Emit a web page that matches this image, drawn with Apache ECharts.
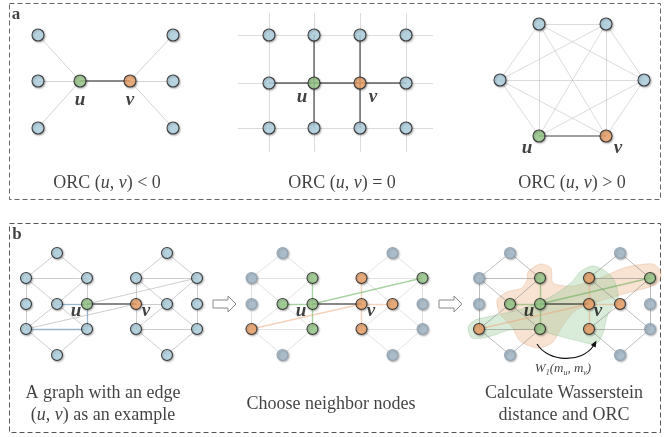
<!DOCTYPE html>
<html>
<head>
<meta charset="utf-8">
<script src="https://cdn.jsdelivr.net/npm/echarts@6/dist/echarts.min.js"></script>
<style>
html,body{margin:0;padding:0;background:#fff}
#chart{width:668px;height:437px}
</style>
</head>
<body>
<div id="chart"></div>
<script>
// ---- panel a: three toy graphs around the edge (u, v) ----
// star: two hubs joined by one edge, each with three leaves
const starNodes = [
  ['u', 80, 81, 'green'], ['v', 130, 81, 'orange'],
  ['l1', 38, 35, 'blue'], ['l2', 38, 81, 'blue'], ['l3', 38, 128, 'blue'],
  ['r1', 173, 35, 'blue'], ['r2', 173, 81, 'blue'], ['r3', 173, 128, 'blue']
];
const starEdges = [
  ['u', 'l1'], ['u', 'l2'], ['u', 'l3'], ['v', 'r1'], ['v', 'r2'], ['v', 'r3'], ['u', 'v', 'bold']
];

// square lattice
const latticeCols = [269, 314, 360, 406];
const latticeRows = [35, 83, 128];
const latticeSpan = { x: [238, 433], y: [13, 152] };
const latticeEdges = [
  ['c1r1', 'c1r0', 'bold'], ['c1r1', 'c1r2', 'bold'], ['c1r1', 'c0r1', 'bold'], ['c1r1', 'c2r1', 'bold'],
  ['c2r1', 'c2r0', 'bold'], ['c2r1', 'c2r2', 'bold'], ['c2r1', 'c3r1', 'bold']
];

// complete graph on six nodes
const cliqueNodes = [
  ['k1', 539, 24, 'blue'], ['k2', 606, 24, 'blue'], ['k3', 500, 80, 'blue'],
  ['k4', 644, 80, 'blue'], ['u', 539, 136, 'green'], ['v', 606, 136, 'orange']
];

// ---- panel b: two communities bridged by (u, v) ----
const twinNodes = [
  ['T1', 57, 253], ['UL1', 26, 278], ['UR1', 87, 278], ['ML1', 26, 304], ['C1', 57, 304],
  ['u', 87, 304], ['LL1', 26, 329], ['LR1', 87, 329], ['B1', 57, 355],
  ['T2', 167, 253], ['UL2', 136, 278], ['UR2', 197, 278], ['v', 136, 304], ['C2', 167, 304],
  ['MR2', 197, 304], ['LL2', 136, 329], ['LR2', 197, 329], ['B2', 167, 355]
];
const twinEdges = [
  ['T1', 'UL1'], ['T1', 'UR1'], ['UL1', 'UR1'], ['UL1', 'ML1'], ['ML1', 'LL1'], ['UR1', 'u'], ['u', 'LR1'],
  ['UL1', 'C1'], ['UR1', 'C1'], ['LL1', 'C1'], ['LR1', 'C1'], ['C1', 'u'], ['LL1', 'LR1'], ['B1', 'LL1'], ['B1', 'LR1'],
  ['T2', 'UL2'], ['T2', 'UR2'], ['UL2', 'UR2'], ['UL2', 'v'], ['v', 'LL2'], ['UR2', 'MR2'], ['MR2', 'LR2'],
  ['UL2', 'C2'], ['UR2', 'C2'], ['LL2', 'C2'], ['LR2', 'C2'], ['v', 'C2'], ['LL2', 'LR2'], ['B2', 'LL2'], ['B2', 'LR2'],
  ['u', 'UR2'], ['LL1', 'v'], ['u', 'v']
];
const twinShift = [0, 225.5, 453];
const pathEdges = [['C1', 'u'], ['u', 'LR1'], ['LL1', 'LR1']];
const uNeighbors = ['UR1', 'C1', 'LR1', 'UR2'];
const vNeighbors = ['LL1', 'UL2', 'C2', 'LL2'];

// probability-mass regions around each neighbourhood
const massU = [[528,272],[540,264],[551,268],[553,283],[573,286],[597,279],[627,267],[653,264],[661,272],[657,284],
  [627,293],[600,301],[575,311],[562,327],[552,343],[537,348],[520,341],[512,327],[500,314],[497,300],[507,292],[522,288],[527,280]];
const massV = [[580,272],[592,266],[604,270],[614,280],[618,298],[608,314],[603,333],[596,344],[575,340],[555,335],
  [535,330],[510,330],[488,337],[472,338],[468,327],[475,320],[492,316],[522,309],[552,296],[572,282]];

// captions
const captions = [
  [107, 183, 'ORC ({i|u}, {i|v}) < 0'],
  [342, 183, 'ORC ({i|u}, {i|v}) = 0'],
  [572, 183, 'ORC ({i|u}, {i|v}) > 0'],
  [103, 404, 'A graph with an edge\n({i|u}, {i|v}) as an example'],
  [331, 404, 'Choose neighbor nodes'],
  [564, 404, 'Calculate Wasserstein\ndistance and ORC']
];
const nodeTags = [
  [80, 100, 'u'], [130, 100, 'v'], [302, 97, 'u'], [373, 97, 'v'], [527, 148, 'u'], [618, 148, 'v'],
  [76, 311, 'u'], [146, 311, 'v'], [301, 311, 'u'], [371, 311, 'v'], [529, 311, 'u'], [598, 311, 'v']
];
const panelTags = [[16, 15, 'a'], [17, 235, 'b']];

const FILL = { blue: '#b6d9ea', green: '#9dcf8f', orange: '#f2a76d', grey: '#a7bece' };
const SERIF = '"Liberation Serif", "DejaVu Serif", serif';

function nodeItem(x, y, kind, size) {
  return {
    value: [x, y],
    symbolSize: size,
    itemStyle: {
      color: FILL[kind],
      borderColor: kind === 'grey' ? '#8d9eac' : '#1c1c1c',
      borderWidth: 1.1,
      shadowBlur: 2, shadowOffsetX: 1, shadowOffsetY: 1, shadowColor: 'rgba(0,0,0,0.35)'
    }
  };
}
function edgeItem(a, b, color, width) {
  return { coords: [a, b], lineStyle: { color: color, width: width } };
}
function lookup(list, dx) {
  const m = {};
  list.forEach(n => { m[n[0]] = [n[1] + (dx || 0), n[2]]; });
  return m;
}
function edgeKey(a, b) { return [a, b].sort().join('|'); }

const nodes = [];
const edges = [];

// star
const sp = lookup(starNodes);
starEdges.forEach(e => edges.push(e[2] ? edgeItem(sp[e[0]], sp[e[1]], '#111', 1.8) : edgeItem(sp[e[0]], sp[e[1]], '#a8a8a8', 1)));
starNodes.forEach(n => nodes.push(nodeItem(n[1], n[2], n[3], 12)));

// lattice
const lp = {};
latticeCols.forEach((x, c) => latticeRows.forEach((y, r) => { lp['c' + c + 'r' + r] = [x, y]; }));
latticeRows.forEach(y => edges.push(edgeItem([latticeSpan.x[0], y], [latticeSpan.x[1], y], '#b8b8b8', 1)));
latticeCols.forEach(x => edges.push(edgeItem([x, latticeSpan.y[0]], [x, latticeSpan.y[1]], '#b8b8b8', 1)));
latticeEdges.forEach(e => edges.push(edgeItem(lp[e[0]], lp[e[1]], '#111', 1.8)));
Object.keys(lp).forEach(k => {
  const kind = k === 'c1r1' ? 'green' : (k === 'c2r1' ? 'orange' : 'blue');
  nodes.push(nodeItem(lp[k][0], lp[k][1], kind, 12));
});

// clique
const cp = lookup(cliqueNodes);
for (let i = 0; i < cliqueNodes.length; i++) {
  for (let j = i + 1; j < cliqueNodes.length; j++) {
    const a = cliqueNodes[i][0], b = cliqueNodes[j][0];
    const isUV = edgeKey(a, b) === edgeKey('u', 'v');
    edges.push(edgeItem(cp[a], cp[b], isUV ? '#444' : '#b8b8b8', isUV ? 2 : 1));
  }
}
cliqueNodes.forEach(n => nodes.push(nodeItem(n[1], n[2], n[3], 12)));

// twin communities, three stages
const pathSet = new Set(pathEdges.map(e => edgeKey(e[0], e[1])));
const greyByStage = ['#9c9c9c', '#c6c6c6', '#7c7c7c'];
twinShift.forEach((dx, stage) => {
  const tp = lookup(twinNodes, dx);
  twinEdges.forEach(e => {
    const a = e[0], b = e[1];
    let color = greyByStage[stage], width = 1;
    if (edgeKey(a, b) === edgeKey('u', 'v')) { color = '#111'; width = 1.8; }
    else if (stage === 0 && pathSet.has(edgeKey(a, b))) { color = '#2f6f9b'; width = 1.3; }
    else if (stage > 0 && (a === 'u' || b === 'u')) { color = '#55a847'; width = 1.4; }
    else if (stage > 0 && (a === 'v' || b === 'v')) { color = '#eda677'; width = 1.4; }
    edges.push(edgeItem(tp[a], tp[b], color, width));
  });
  twinNodes.forEach(n => {
    let kind;
    if (n[0] === 'u') kind = 'green';
    else if (n[0] === 'v') kind = 'orange';
    else if (stage === 0) kind = 'blue';
    else if (uNeighbors.indexOf(n[0]) >= 0) kind = 'green';
    else if (vNeighbors.indexOf(n[0]) >= 0) kind = 'orange';
    else kind = 'grey';
    nodes.push(nodeItem(tp[n[0]][0], tp[n[0]][1], kind, 11));
  });
});

const masses = [
  { outline: massU, color: 'rgba(236,178,135,0.38)', border: 'rgba(215,160,120,0.3)' },
  { outline: massV, color: 'rgba(160,206,160,0.4)', border: 'rgba(130,180,130,0.3)' }
];

const chart = echarts.init(document.getElementById('chart'), null, { renderer: 'canvas' });
chart.setOption({
  animation: false,
  backgroundColor: '#fff',
  grid: { left: 0, right: 0, top: 0, bottom: 0 },
  xAxis: { type: 'value', min: 0, max: 668, show: false },
  yAxis: { type: 'value', min: 0, max: 437, inverse: true, show: false },
  graphic: [
    // panel frames
    { type: 'rect', shape: { x: 9.5, y: 3.5, width: 651, height: 196 }, style: { fill: null, stroke: '#666', lineWidth: 1, lineDash: [5, 3] }, z: 0 },
    { type: 'rect', shape: { x: 9.5, y: 223.5, width: 651, height: 209 }, style: { fill: null, stroke: '#555', lineWidth: 1, lineDash: [5, 3] }, z: 0 },
    // hollow step arrows
    { type: 'polygon', shape: { points: [[213, 300], [228, 300], [228, 296], [236, 304], [228, 312], [228, 308], [213, 308]] }, style: { fill: '#fff', stroke: '#8a8a8a', lineWidth: 1 }, z: 10 },
    { type: 'polygon', shape: { points: [[439, 300], [454, 300], [454, 296], [462, 304], [454, 312], [454, 308], [439, 308]] }, style: { fill: '#fff', stroke: '#8a8a8a', lineWidth: 1 }, z: 10 },
    // transport arrow
    { type: 'bezierCurve', shape: { x1: 537, y1: 344, cpx1: 548, cpy1: 362, cpx2: 582, cpy2: 364, x2: 594, y2: 345 }, style: { fill: null, stroke: '#111', lineWidth: 1.1 }, z: 10 },
    { type: 'polygon', shape: { points: [[596.5, 340.5], [595.6, 347.6], [590.8, 345.0]] }, style: { fill: '#111' }, z: 10 }
  ],
  series: [
    {
      type: 'custom',
      coordinateSystem: 'cartesian2d',
      z: 1,
      silent: true,
      data: masses.map((m, i) => [i]),
      renderItem: function (params, api) {
        const m = masses[params.dataIndex];
        return {
          type: 'polygon',
          shape: { points: m.outline.map(p => api.coord(p)), smooth: 0.25 },
          style: { fill: m.color, stroke: m.border, lineWidth: 1 }
        };
      }
    },
    {
      type: 'lines',
      coordinateSystem: 'cartesian2d',
      z: 2,
      silent: true,
      data: edges
    },
    {
      type: 'scatter',
      z: 3,
      silent: true,
      data: nodes
    },
    {
      type: 'scatter',
      z: 5,
      silent: true,
      symbolSize: 0,
      data: nodeTags.map(t => ({
        value: [t[0], t[1]],
        label: {
          show: true, position: 'inside', formatter: t[2],
          fontFamily: SERIF, fontSize: 19, fontStyle: 'italic', fontWeight: 'bold', color: '#111'
        }
      })).concat(panelTags.map(t => ({
        value: [t[0], t[1]],
        label: { show: true, position: 'inside', formatter: t[2], fontFamily: SERIF, fontSize: 17, fontWeight: 'bold', color: '#111' }
      }))).concat(captions.map(c => ({
        value: [c[0], c[1]],
        label: {
          show: true, position: 'inside', formatter: c[2], align: 'center', verticalAlign: 'middle',
          fontFamily: SERIF, fontSize: 18, lineHeight: 22, color: '#111',
          rich: { i: { fontFamily: SERIF, fontSize: 18, lineHeight: 22, fontStyle: 'italic', color: '#111' } }
        }
      }))).concat([{
        value: [563, 369],
        label: {
          show: true, position: 'inside',
          formatter: '{i|W}{s|1}{i|(m}{s|u}{i|, m}{s|v}{i|)}',
          rich: {
            i: { fontFamily: SERIF, fontSize: 13, fontStyle: 'italic', color: '#111', lineHeight: 16, verticalAlign: 'middle' },
            s: { fontFamily: SERIF, fontSize: 8, fontStyle: 'italic', color: '#111', lineHeight: 16, padding: [7, 0, 0, 0] }
          }
        }
      }])
    }
  ]
});
</script>
</body>
</html>
